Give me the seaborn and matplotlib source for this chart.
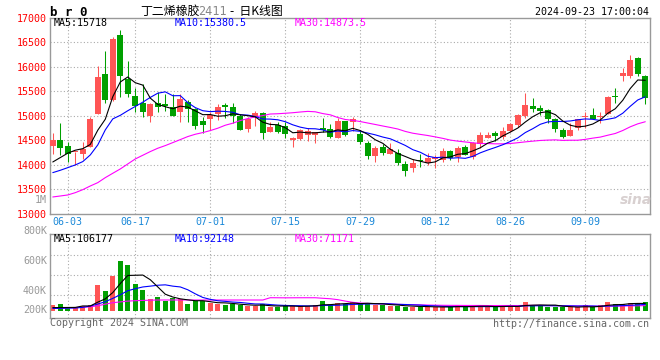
import numpy as np
import pandas as pd
import matplotlib
matplotlib.use("Agg")
import matplotlib.pyplot as plt
import seaborn as sns

# ---------------- data ----------------
holidays = ["2024-06-10", "2024-09-16", "2024-09-17"]
days = [d for d in pd.bdate_range("2024-05-30", "2024-09-23")
        if d.strftime("%Y-%m-%d") not in holidays]
date_labels = [d.strftime("%m-%d") for d in days]
tick_labels = ["06-03", "06-17", "07-01", "07-15", "07-29", "08-12", "08-26", "09-09"]

opens = [14394, 14510, 14387, 14258, 14217, 14374, 15040, 15849, 15326, 16652,
         15747, 15407, 15271, 15006, 15271, 15251, 15183, 15074, 15278, 15135,
         14897, 14938, 15033, 15230, 15183, 14999, 14734, 14986, 15061, 14680,
         14816, 14795, 14503, 14530, 14612, 14612, 14755, 14727, 14557, 14904,
         14880, 14632, 14455, 14190, 14360, 14231, 14251, 14020, 13945, 14108,
         14047, 14122, 14102, 14285, 14156, 14367, 14170, 14421, 14544, 14659,
         14571, 14700, 14822, 15006, 15210, 15156, 15122, 14931, 14714, 14598,
         14748, 14986, 15020, 14972, 15040, 15400, 15815, 15815, 16169, 15815]
highs = [14646, 14863, 14476, 14272, 14476, 14986, 16019, 16325, 16611, 16740,
         16114, 15577, 15645, 15258, 15496, 15455, 15455, 15455, 15319, 15169,
         14986, 15088, 15244, 15264, 15264, 15047, 14986, 15101, 15088, 14870,
         14870, 14870, 14571, 14727, 14748, 14680, 14965, 14843, 14952, 14904,
         14972, 14714, 14496, 14394, 14421, 14455, 14319, 14081, 14122, 14217,
         14251, 14204, 14340, 14306, 14380, 14408, 14469, 14680, 14666, 14693,
         14775, 14850, 15040, 15462, 15360, 15224, 15142, 14965, 14748, 14850,
         14945, 15088, 15156, 15074, 15407, 15564, 15985, 16244, 16196, 15836]
lows = [14224, 14204, 14068, 13999, 14122, 14374, 15033, 15258, 15305, 15394,
        15394, 15088, 14986, 14884, 15088, 15108, 15006, 14884, 14884, 14727,
        14646, 14714, 14918, 14952, 14850, 14714, 14680, 14802, 14530, 14680,
        14646, 14544, 14374, 14510, 14489, 14455, 14666, 14544, 14557, 14591,
        14700, 14421, 14122, 14068, 14204, 14231, 13999, 13782, 13850, 13966,
        13999, 13945, 14068, 14102, 14054, 14204, 14115, 14353, 14544, 14496,
        14530, 14680, 14782, 14952, 15088, 15020, 14863, 14680, 14557, 14598,
        14714, 14748, 14938, 14850, 15040, 15258, 15713, 15781, 15822, 15244]
closes = [14510, 14340, 14217, 14272, 14319, 14938, 15795, 15332, 16570, 15815,
          15448, 15210, 15088, 15244, 15176, 15210, 15006, 15353, 15142, 14802,
          14816, 15020, 15183, 15190, 14999, 14714, 14931, 15061, 14646, 14775,
          14680, 14632, 14544, 14714, 14700, 14680, 14707, 14578, 14904, 14612,
          14930, 14476, 14190, 14353, 14251, 14326, 14047, 13884, 14040, 14081,
          14136, 14170, 14292, 14136, 14353, 14204, 14442, 14612, 14612, 14598,
          14693, 14829, 15026, 15224, 15142, 15101, 14931, 14727, 14571, 14714,
          14931, 15006, 14945, 14986, 15394, 15394, 15870, 16142, 15856, 15360]
volumes = [83000, 97000, 49000, 49000, 68000, 83000, 375000, 287000, 511000, 726000,
           672000, 390000, 302000, 170000, 200000, 141000, 185000, 170000, 97000, 136000,
           141000, 112000, 97000, 83000, 97000, 83000, 68000, 68000, 97000, 49000,
           58000, 68000, 68000, 68000, 68000, 83000, 141000, 83000, 112000, 97000,
           127000, 97000, 112000, 83000, 83000, 68000, 68000, 58000, 58000, 58000,
           58000, 49000, 49000, 58000, 83000, 58000, 58000, 68000, 58000, 58000,
           68000, 68000, 58000, 127000, 83000, 83000, 58000, 58000, 49000, 49000,
           49000, 83000, 49000, 83000, 127000, 97000, 97000, 112000, 97000, 127000]

# moving-average values at the left edge (they depend on days before the window)
ma5_head = [14060, 14150, 14240, 14300]
ma10_head = [13843, 13891, 13945, 14000, 14068, 14204, 14408, 14714, 14938]
ma30_head = [13347, 13367, 13388, 13435, 13496, 13571, 13639, 13741, 13830, 13918,
             14020, 14122, 14197, 14272, 14340, 14394, 14455, 14516, 14578, 14625,
             14659, 14700, 14748, 14809, 14850, 14904, 14945, 14979, 15006]
vma5_head = [45000, 46000, 47000, 48000]
vma10_head = [34000, 34000, 39000, 39000, 49000, 68000, 97000, 131000, 180000]
vma30_head = [35000, 38000, 41000, 45000, 50000, 57000, 72000, 95000, 117000, 128000,
              140000, 146000, 150000, 153000, 156000, 156000, 156000, 156000, 156000, 156000,
              156000, 156000, 156000, 156000, 156000, 156000, 156000, 156000, 156000]

# legend readouts shown in the chart
price_ma_text = ["MA5:15718", "MA10:15380.5", "MA30:14873.5"]
vol_ma_text = ["MA5:106177", "MA10:92148", "MA30:71171"]
vol_axis_labels = ["800K", "600K", "400K", "200K"]


def moving(values, n, head):
    s = pd.Series(values, dtype=float).rolling(n).mean()
    s.iloc[:len(head)] = head
    return s.values


df = pd.DataFrame({"x": np.arange(len(closes)), "open": opens, "high": highs,
                   "low": lows, "close": closes, "vol": volumes})
df["ma5"] = moving(closes, 5, ma5_head)
df["ma10"] = moving(closes, 10, ma10_head)
df["ma30"] = moving(closes, 30, ma30_head)
df["vma5"] = moving(volumes, 5, vma5_head)
df["vma10"] = moving(volumes, 10, vma10_head)
df["vma30"] = moving(volumes, 30, vma30_head)

# ---------------- style ----------------
sns.set_style("white")
plt.rcParams["font.family"] = ["DejaVu Sans Mono", "Noto Sans CJK SC"]
MONO = 7.2
RED, GREEN = "#ff5555", "#00a000"
GRID = "#aaaaaa"
FRAME = "#999999"
W, H = 660, 360

fig = plt.figure(figsize=(6.6, 3.6), dpi=100)
fig.patch.set_facecolor("white")


def fpos(l, t, r, b):
    return [l / W, 1 - b / H, (r - l) / W, (b - t) / H]


def ftext(x, y, s, **kw):
    kw.setdefault("va", "center")
    kw.setdefault("fontsize", MONO)
    fig.text(x / W, 1 - y / H, s, **kw)


ax = fig.add_axes(fpos(50, 17.7, 650, 214))
axv = fig.add_axes(fpos(50, 234.3, 650, 318.3))

up = df["close"] >= df["open"]
cols = np.where(up, RED, GREEN)
x = df["x"].values
tick_pos = [date_labels.index(t) for t in tick_labels]

for a in (ax, axv):
    a.set_xlim(-0.373, 79.63)
    for s in a.spines.values():
        s.set_color(FRAME)
        s.set_linewidth(1.0)
    for p in tick_pos:
        a.axvline(p, color=GRID, lw=0.8, ls=(0, (1, 2)), zorder=0)

# ---- price panel ----
ax.set_ylim(13000, 17000)
for lev in range(13500, 17000, 500):
    ax.axhline(lev, color=GRID, lw=0.8, ls=(0, (1, 2)), zorder=0)
ax.vlines(x, df["low"], df["high"], colors=cols, lw=0.75, zorder=2)
body_h = np.maximum((df["close"] - df["open"]).abs().values, 20)
body_b = np.minimum(df["open"], df["close"]).values
ax.bar(x, body_h, bottom=body_b, width=0.76, color=cols, lw=0, zorder=3)
sns.lineplot(data=df, x="x", y="ma30", ax=ax, color="#ff00ff", lw=0.8, zorder=4, legend=False)
sns.lineplot(data=df, x="x", y="ma10", ax=ax, color="#0000ff", lw=0.8, zorder=5, legend=False)
sns.lineplot(data=df, x="x", y="ma5", ax=ax, color="black", lw=0.8, zorder=6, legend=False)
ax.set_xlabel("")
ax.set_ylabel("")
ax.set_yticks(range(13000, 17001, 500))
ax.set_yticklabels([str(v) for v in range(13000, 17001, 500)])
ax.set_xticks(tick_pos)
ax.set_xticklabels(tick_labels)
ax.tick_params(axis="y", length=0, pad=2.2, labelcolor="#ff0000", labelsize=MONO)
ax.tick_params(axis="x", length=0, pad=2.4, labelcolor="#1a88d8", labelsize=MONO)

# ---- volume panel ----
axv.set_ylim(-111000, 1115000)
for lev in (229000, 521000, 813000):
    axv.axhline(lev, color=GRID, lw=0.8, ls=(0, (1, 2)), zorder=0)
axv.bar(x, df["vol"], width=0.72, color=cols, lw=0, zorder=2)
sns.lineplot(data=df, x="x", y="vma30", ax=axv, color="#ff00ff", lw=0.8, zorder=4, legend=False)
sns.lineplot(data=df, x="x", y="vma10", ax=axv, color="#0000ff", lw=0.8, zorder=5, legend=False)
sns.lineplot(data=df, x="x", y="vma5", ax=axv, color="black", lw=0.8, zorder=6, legend=False)
axv.set_xlabel("")
axv.set_ylabel("")
axv.set_xticks([])
axv.set_yticks([])
for lab, yy in zip(vol_axis_labels, (231, 261, 291, 310)):
    ftext(47, yy, lab, ha="right", color="#999999")
ftext(47, 200, "1M", ha="right", color="#999999")

# ---- header texts ----
ftext(50, 12, "b r 0", ha="left", fontsize=9, fontweight="bold", color="black")
ftext(140, 11, "丁二烯橡胶", ha="left", fontsize=8.6, color="black",
      family=["Noto Sans CJK SC", "DejaVu Sans"])
ftext(198, 11.5, "2411", ha="left", fontsize=8.6, color="#888888",
      family=["DejaVu Sans Mono"])
ftext(230, 11, "-  日K线图", ha="left", fontsize=8.6, color="black",
      family=["Noto Sans CJK SC", "DejaVu Sans"])
ftext(649, 12.3, "2024-09-23 17:00:04", ha="right", color="black")

for s, xx, c in zip(price_ma_text, (54, 175, 295), ("black", "#0000ff", "#ff00ff")):
    ftext(xx, 23.3, s, ha="left", color=c)
for s, xx, c in zip(vol_ma_text, (54, 175, 295), ("black", "#0000ff", "#ff00ff")):
    ftext(xx, 238.5, s, ha="left", color=c)

ftext(50, 323.5, "Copyright 2024 SINA.COM", ha="left", color="#666666")
ftext(649, 324, "http://finance.sina.com.cn", ha="right", color="#666666")
ftext(636, 200, "sina", ha="center", fontsize=10, fontweight="bold", style="italic",
      color="#d8d0d0", family=["DejaVu Sans"])

fig.savefig("out.png", dpi=100, facecolor="white")
